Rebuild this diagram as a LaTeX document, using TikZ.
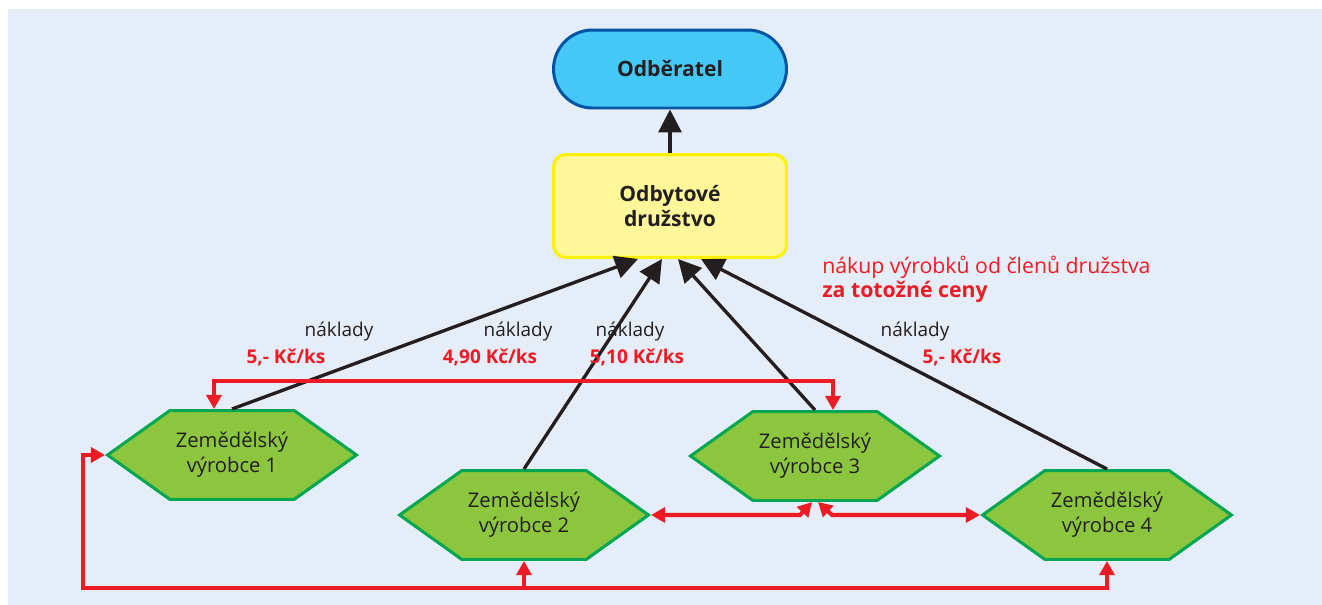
\documentclass[tikz,border=0pt]{standalone}
\usepackage{fontspec}
\setmainfont{Open Sans}
\usetikzlibrary{shapes.symbols,arrows.meta,calc}
\definecolor{bgblue}{HTML}{E5EDF8}
\definecolor{inkblack}{HTML}{231F20}
\definecolor{linkred}{HTML}{ED1C24}
\definecolor{hexfill}{HTML}{8CC63F}
\definecolor{hexborder}{HTML}{00A651}
\definecolor{skyfill}{HTML}{45C8F5}
\definecolor{skyborder}{HTML}{0054A6}
\definecolor{lemonfill}{HTML}{FFF799}
\definecolor{lemonborder}{HTML}{FFF200}
\tikzset{
  producer/.style={shape=signal, signal to=west and east, signal pointer angle=71,
    minimum width=4.98cm, minimum height=1.78cm, inner sep=0pt,
    fill=hexfill, draw=hexborder, line width=1.7pt, text=inkblack, align=center,
    font=\fontsize{11.5}{14.2}\selectfont},
  buyer/.style={rectangle, rounded corners=0.78cm, minimum width=4.66cm, minimum height=1.56cm,
    fill=skyfill, draw=skyborder, line width=1.7pt, text=inkblack,
    font=\fontsize{12}{14.7}\selectfont\bfseries},
  coop/.style={rectangle, rounded corners=0.25cm, minimum width=4.66cm, minimum height=2.06cm,
    fill=lemonfill, draw=lemonborder, line width=1.7pt, text=inkblack, align=center,
    font=\fontsize{12}{14.7}\selectfont\bfseries},
  costflow/.style={draw=inkblack, line width=1.9pt, -{Triangle[length=13pt,width=13pt]}},
  tradeflow/.style={draw=linkred, line width=2.3pt, {Triangle[length=8pt,width=8.5pt]}-{Triangle[length=8pt,width=8.5pt]}},
  tradeup/.style={draw=linkred, line width=2.3pt, -{Triangle[length=8pt,width=8.5pt]}},
  costlabel/.style={inner sep=0pt, text=inkblack, font=\fontsize{10.8}{13}\selectfont},
  pricelabel/.style={inner sep=0pt, text=linkred, font=\fontsize{10.8}{13}\selectfont\bfseries},
  notelabel/.style={inner sep=0pt, anchor=west, text=linkred, font=\fontsize{12.1}{14}\selectfont},
}
\begin{document}
\begin{tikzpicture}[x=0.02cm, y=-0.02cm]
\useasboundingbox (0,0) rectangle (1322,605);
\fill[bgblue] (8,9) rectangle (1322,605);

% main boxes
\node[buyer] (buyer) at (670,69) {Odběratel};
\node[coop] (coop) at (670,206) {Odbytové\\družstvo};

% producers
\node[producer] (h1) at (232,455) {Zemědělský\\výrobce 1};
\node[producer] (h2) at (524,515) {Zemědělský\\výrobce 2};
\node[producer] (h3) at (815,456) {Zemědělský\\výrobce 3};
\node[producer] (h4) at (1107,515) {Zemědělský\\výrobce 4};

% entry points on the cooperative's lower edge
\coordinate (in1) at ($(coop.south)+(-32,0)$);
\coordinate (in2) at ($(coop.south)+(-8,0)$);
\coordinate (in3) at ($(coop.south)+(8,0)$);
\coordinate (in4) at ($(coop.south)+(31,0)$);

% deliveries to the cooperative
\draw[costflow] (h1.north) -- (in1);
\draw[costflow] (h2.north) -- (in2);
\draw[costflow] (h3.north) -- (in3);
\draw[costflow] (h4.north) -- (in4);
\draw[costflow] (coop.north) -- (buyer.south);

% exchanges between the producers
\coordinate (t1) at ($(h1.north)+(-18,0)$);
\coordinate (t3) at ($(h3.north)+(18,0)$);
\draw[tradeflow] (t1) -- ++(0,-28) -| (t3);

\coordinate (lb) at (83,588);
\draw[tradeflow] (h1.west) -| (lb) -| (h4.south);
\draw[tradeup] (h2.south |- lb) -- (h2.south);

\coordinate (b3l) at ($(h3.south)+(-3,0)$);
\coordinate (b3r) at ($(h3.south)+(3,0)$);
\coordinate (k2) at (800,515);
\coordinate (k4) at (832,515);
\draw[tradeflow] (h2.east) -- (k2) -- (b3l);
\draw[tradeflow] (b3r) -- (k4) -- (h4.west);

% labels
\node[costlabel] (c1) at (339,332) {náklady};
\node[pricelabel] (p1) at (286,357) {5,- Kč/ks};
\node[costlabel] (c2) at (518,332) {náklady};
\node[pricelabel] (p2) at (490,357) {4,90 Kč/ks};
\node[costlabel] (c3) at (630,332) {náklady};
\node[pricelabel] (p3) at (637,357) {5,10 Kč/ks};
\node[costlabel] (c4) at (915,332) {náklady};
\node[pricelabel] (p4) at (962,357) {5,- Kč/ks};

\node[notelabel] (n1) at (822,267) {nákup výrobků od členů družstva};
\node[notelabel, font=\fontsize{12.1}{14}\selectfont\bfseries] (n2) at (822,292) {za totožné ceny};
\end{tikzpicture}
\end{document}
